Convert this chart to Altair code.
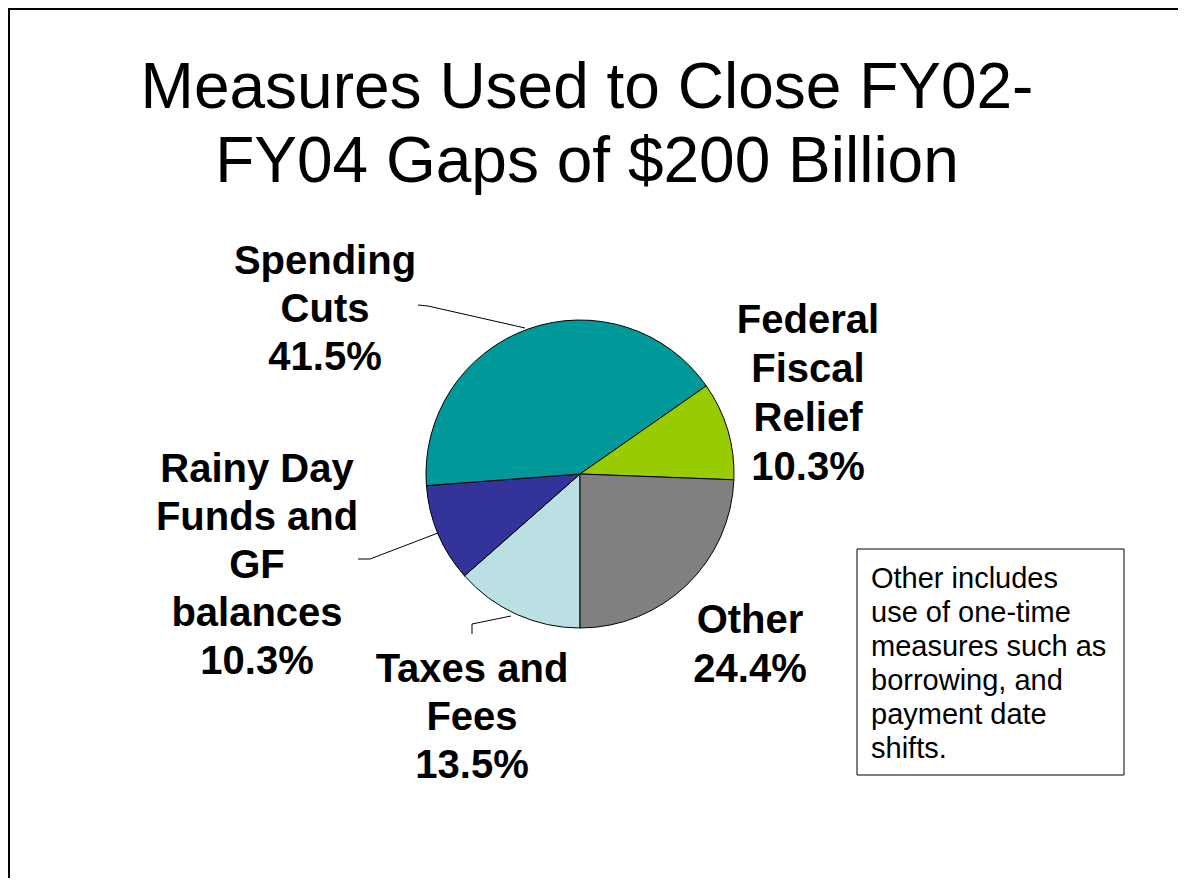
import math
import altair as alt
import pandas as pd

# ---- data ----
categories = ["Taxes and Fees", "Rainy Day Funds and GF balances", "Spending Cuts",
              "Federal Fiscal Relief", "Other"]
shares = [13.5, 10.3, 41.5, 10.3, 24.4]
colors = ["#BBE0E3", "#333399", "#009999", "#99CC00", "#808080"]

title_lines = ["Measures Used to Close FY02-", "FY04 Gaps of $200 Billion"]
lbl_spending = ["Spending", "Cuts", "41.5%"]
lbl_federal = ["Federal", "Fiscal", "Relief", "10.3%"]
lbl_rainy = ["Rainy Day", "Funds and", "GF", "balances", "10.3%"]
lbl_taxes = ["Taxes and", "Fees", "13.5%"]
lbl_other = ["Other", "24.4%"]
note_lines = ["Other includes", "use of one-time", "measures such as",
              "borrowing, and", "payment date", "shifts."]

df = pd.DataFrame({"category": categories, "share": shares,
                   "idx": list(range(len(categories)))})

W, H = 1170, 870
CX, CY, R = 572, 466, 154
FONT = "Liberation Sans"

pie = alt.Chart(df).mark_arc(outerRadius=R, stroke="black", strokeWidth=1).encode(
    theta=alt.Theta("share:Q", stack=True,
                    scale=alt.Scale(range=[math.pi, 3 * math.pi])),
    color=alt.Color("category:N", legend=None,
                    scale=alt.Scale(domain=categories, range=colors)),
    order=alt.Order("idx:Q"),
    x=alt.value(CX), y=alt.value(CY),
)

base = alt.Chart(pd.DataFrame({"k": [0]}))


def text_layer(lines, x, y, size, bold=True, align="center", lh=48):
    return base.mark_text(text=lines, font=FONT, fontSize=size,
                          fontWeight="bold" if bold else "normal",
                          align=align, baseline="alphabetic", lineHeight=lh,
                          color="black").encode(x=alt.value(x), y=alt.value(y))


def seg(x1, y1, x2, y2, w=1):
    return base.mark_rule(color="black", strokeWidth=w).encode(
        x=alt.value(x1), y=alt.value(y1), x2=alt.value(x2), y2=alt.value(y2))


layers = [
    # frame (left and top edges)
    seg(1, 0, 1, H + 20, 2), seg(0, 1, W + 20, 1, 2),
    pie,
    text_layer(title_lines, 579, 100, 64, bold=False, lh=74),
    text_layer(lbl_spending, 317, 266, 40),
    text_layer(lbl_federal, 800, 325, 40, lh=49),
    text_layer(lbl_rainy, 249, 474, 40, lh=48),
    text_layer(lbl_taxes, 464, 674, 40, lh=48),
    text_layer(lbl_other, 742, 625, 40, lh=49),
    # leader lines
    seg(410, 297, 420, 298), seg(420, 298, 517, 320),
    seg(350, 551, 362, 551), seg(362, 551, 430, 525),
    seg(464, 626, 464, 616), seg(464, 616, 503, 608),
    # note box
    base.mark_rect(fill="white", stroke="black", strokeWidth=1).encode(
        x=alt.value(849), y=alt.value(541), x2=alt.value(1116), y2=alt.value(767)),
    text_layer(note_lines, 863, 580, 29, bold=False, align="left", lh=34),
]

chart = alt.layer(*layers).properties(
    width=W, height=H, padding=0,
    autosize=alt.AutoSizeParams(type="none"),
).configure_view(stroke=None)

chart.save("out.html", embed_options={"renderer": "svg", "actions": False})
